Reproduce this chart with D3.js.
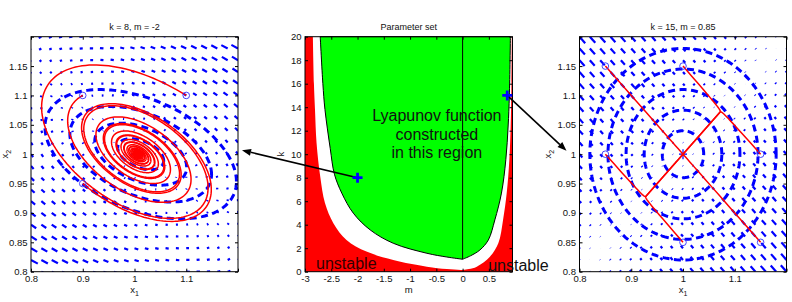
<!DOCTYPE html>
<html>
<head>
<meta charset="utf-8">
<script src="https://cdn.jsdelivr.net/npm/d3@7"></script>
<style>
  body { margin: 0; background: #fff; }
  svg { display: block; font-family: "Liberation Sans", Arial, Helvetica, sans-serif; }
</style>
</head>
<body>
<div id="chart"></div>
<script>
// ---- datos ----
const titles = ["k = 8, m = -2", "Parameter set", "k = 15, m = 0.85"];

// ejes de los planos de fase
const phaseXTicks = [0.8, 0.9, 1, 1.1, 1.2];
const phaseXLabels = ["0.8", "0.9", "1", "1.1", ""];
const phaseYTicks = [0.8, 0.85, 0.9, 0.95, 1, 1.05, 1.1, 1.15, 1.2];
const phaseYLabels = ["0.8", "0.85", "0.9", "0.95", "1", "1.05", "1.1", "1.15", ""];
const gridStep = 0.02;

// ejes del conjunto de parametros
const mTicks = [-3, -2.5, -2, -1.5, -1, -0.5, 0, 0.5];
const mTickLabels = ["-3", "-2.5", "-2", "-1.5", "-1", "-0.5", "0", "0.5"];
const kTicks = [0, 2, 4, 6, 8, 10, 12, 14, 16, 18, 20];

// puntos de parametros elegidos (cruces azules)
const paramM = [-2, 0.85];
const paramK = [8, 15];

// frontera roja (inestable), de arriba a abajo por la izquierda y de abajo a arriba por la derecha
const redLeftM = [-2.85, -2.83, -2.81, -2.78, -2.71, -2.62, -2.46, -2.21, -1.83, -1.32, -0.68, -0.3, 0];
const redLeftK = [20, 16, 13.8, 10.95, 8.1, 5.84, 4.13, 2.7, 1.71, 1.0, 0.43, 0.22, 0.15];
const redRightM = [0, 0.12, 0.27, 0.52, 0.68, 0.77, 0.84, 0.89, 0.915, 0.93, 0.937];
const redRightK = [0.15, 0.22, 0.43, 1.28, 2.42, 4.41, 6.69, 9.53, 12.4, 16, 20];

// region verde (funcion de Lyapunov construida)
const greenLeftM = [-2.71, -2.66, -2.62, -2.52, -2.44, -2.3, -2.08, -1.76, -1.32, -0.68, -0.3, 0];
const greenLeftK = [20, 16, 13.8, 10.5, 8.3, 6.69, 4.98, 3.56, 2.42, 1.57, 1.25, 1.06];
const greenRightM = [0, 0.15, 0.33, 0.49, 0.614, 0.74, 0.823, 0.867, 0.89, 0.91];
const greenRightK = [1.06, 1.35, 1.85, 2.7, 4.41, 6.69, 9.53, 12.4, 15, 20];

// condiciones iniciales de las trayectorias
const leftStartX1 = [0.9, 1.1, 0.9];
const leftStartX2 = [1.1, 1.1, 0.95];
const rightStartX1 = [0.85, 1, 1.15, 0.85, 1, 1.15];
const rightStartX2 = [1.15, 1.15, 1, 1, 0.85, 0.85];

// curvas de nivel (discontinuas azules)
const leftLevels = [1, 0.74, 0.48, 0.24];
const rightLevels = [0.04, 0.075, 0.11, 0.145, 0.18];

// ---- modelos de los dos planos de fase ----
// espiral estable (k = 8, m = -2)
const spiral = { cx: 1.006, cy: 1, wx: 0.165, wy: 0.12, delta: 120 * Math.PI / 180, s0: 0.07, s1: 0.03 };
// forma de las curvas de nivel de la izquierda
const ellipse = { cx: 1.012, cy: 1, wx: 0.185, wy: 0.11, delta: 115 * Math.PI / 180 };
// nodo rigido (k = 15, m = 0.85)
const stiff = { cx: 1, cy: 1, fast: 1, slow: 1 / 150 };

function spiralField(x1, x2) {
  const u = x1 - spiral.cx, v = x2 - spiral.cy;
  const cd = Math.cos(spiral.delta), sd = Math.sin(spiral.delta);
  const C = u / spiral.wx, S = (v / spiral.wy - C * cd) / sd;
  const sig = spiral.s0 + spiral.s1 * (C * C + S * S);
  const dC = -sig * C - S, dS = -sig * S + C;
  return [spiral.wx * dC, spiral.wy * (dC * cd + dS * sd)];
}

function stiffField(x1, x2) {
  const u = x1 - stiff.cx, v = x2 - stiff.cy;
  const p = (u - v) / 2, q = (u + v) / 2;
  const dp = -stiff.fast * p, dq = -stiff.slow * q;
  return [dp + dq, dq - dp];
}

// integracion RK4
function integrate(field, x0, y0, dt, steps) {
  const pts = [[x0, y0]];
  let x = x0, y = y0;
  for (let i = 0; i < steps; i++) {
    const a = field(x, y);
    const b = field(x + dt / 2 * a[0], y + dt / 2 * a[1]);
    const c = field(x + dt / 2 * b[0], y + dt / 2 * b[1]);
    const d = field(x + dt * c[0], y + dt * c[1]);
    x += dt / 6 * (a[0] + 2 * b[0] + 2 * c[0] + d[0]);
    y += dt / 6 * (a[1] + 2 * b[1] + 2 * c[1] + d[1]);
    pts.push([x, y]);
  }
  return pts;
}

// ---- lienzo ----
const W = 792, H = 302;
const topY = 36.7, panelH = 235;
const svg = d3.select("#chart").append("svg")
  .attr("width", W).attr("height", H);

const font = "9.5px";

function frame(g, w, h) {
  g.append("rect")
    .attr("width", w).attr("height", h)
    .attr("fill", "none").attr("stroke", "#000").attr("stroke-width", 1);
}

function styleAxis(a) {
  a.select(".domain").remove();
  a.selectAll("text").attr("font-size", font).attr("fill", "#111")
    .attr("font-family", "Liberation Sans, Arial, sans-serif");
  a.selectAll("line").attr("stroke", "#000");
}

// ---- panel de plano de fase ----
function phasePanel(x0, opts) {
  const w = 207, h = panelH;
  const g = svg.append("g").attr("transform", `translate(${x0},${topY})`);
  const x = d3.scaleLinear().domain([0.8, 1.2]).range([0, w]);
  const y = d3.scaleLinear().domain([0.8, 1.2]).range([h, 0]);

  const clipId = "clip" + opts.id;
  g.append("clipPath").attr("id", clipId)
    .append("rect").attr("width", w).attr("height", h);
  const plot = g.append("g").attr("clip-path", `url(#${clipId})`);

  // campo de vectores (quiver)
  const grid = d3.range(0.8, 1.2 + 1e-9, gridStep);
  const vecs = [];
  grid.forEach(gx => grid.forEach(gy => {
    const f = opts.field(gx, gy);
    vecs.push({ gx, gy, du: f[0], dv: f[1] });
  }));
  const maxLen = d3.max(vecs, d => Math.hypot(d.du, d.dv) / Math.hypot(gridStep, gridStep));
  const sc = opts.quiverScale / maxLen;
  plot.append("g").selectAll("line").data(vecs).join("line")
    .attr("x1", d => x(d.gx)).attr("y1", d => y(d.gy))
    .attr("x2", d => x(d.gx + d.du * sc)).attr("y2", d => y(d.gy + d.dv * sc))
    .attr("stroke", "#0000ff").attr("stroke-width", 2.2);

  const line = d3.line().x(d => x(d[0])).y(d => y(d[1]));

  // curvas de nivel
  plot.append("g").selectAll("path").data(opts.levels).join("path")
    .attr("d", s => line(opts.levelCurve(s)) + "Z")
    .attr("fill", "none").attr("stroke", "#0000ff")
    .attr("stroke-width", 3).attr("stroke-dasharray", "7,4.5");

  // equilibrio
  plot.append("path")
    .attr("d", `M${x(1) - 4},${y(1)}H${x(1) + 4}M${x(1)},${y(1) - 5}V${y(1) + 5}`)
    .attr("stroke", "#0000ff").attr("stroke-width", 1.2);

  // trayectorias
  const starts = opts.startX1.map((v, i) => [v, opts.startX2[i]]);
  plot.append("g").selectAll("path").data(starts).join("path")
    .attr("d", s => line(integrate(opts.field, s[0], s[1], opts.dt, opts.steps)))
    .attr("fill", "none").attr("stroke", "#ff0000").attr("stroke-width", 1.5);

  plot.append("g").selectAll("circle").data(starts).join("circle")
    .attr("cx", d => x(d[0])).attr("cy", d => y(d[1])).attr("r", 3.3)
    .attr("fill", "none").attr("stroke", "#3030ff").attr("stroke-width", 0.9);

  // ejes
  g.append("g").attr("transform", `translate(0,${h})`)
    .call(d3.axisBottom(x).tickValues(phaseXTicks).tickSize(-3).tickPadding(3.5)
      .tickFormat((d, i) => phaseXLabels[i])).call(styleAxis);
  g.append("g").call(d3.axisTop(x).tickValues(phaseXTicks).tickSize(-3).tickFormat("")).call(styleAxis);
  g.append("g")
    .call(d3.axisLeft(y).tickValues(phaseYTicks).tickSize(-3).tickPadding(3.5)
      .tickFormat((d, i) => phaseYLabels[i])).call(styleAxis);
  g.append("g").attr("transform", `translate(${w},0)`)
    .call(d3.axisRight(y).tickValues(phaseYTicks).tickSize(-3).tickFormat("")).call(styleAxis);
  frame(g, w, h);

  g.append("text").attr("x", w / 2).attr("y", -7).attr("text-anchor", "middle")
    .attr("font-size", "9px").attr("fill", "#111").text(opts.title);

  const xl = g.append("text").attr("x", w / 2).attr("y", h + 21.5).attr("text-anchor", "middle")
    .attr("font-size", "9.5px").attr("fill", "#111");
  xl.append("tspan").text("x");
  xl.append("tspan").attr("font-size", "7px").attr("dy", 3).text("1");

  const yl = g.append("text").attr("transform", `translate(${opts.yLabelOffset},${y(1)}) rotate(-90)`)
    .attr("text-anchor", "middle").attr("font-size", "9.5px").attr("fill", "#111");
  yl.append("tspan").text("x");
  yl.append("tspan").attr("font-size", "7px").attr("dy", 3).text("2");

  return { g, x, y, w, h };
}

const leftPanel = phasePanel(31, {
  id: "L", title: titles[0], field: spiralField, quiverScale: 0.55, yLabelOffset: -23.5,
  startX1: leftStartX1, startX2: leftStartX2, dt: 0.04, steps: 2500,
  levels: leftLevels,
  levelCurve: s => d3.range(0, 2 * Math.PI + 0.01, Math.PI / 90).map(t => [
    ellipse.cx + s * ellipse.wx * Math.cos(t),
    ellipse.cy + s * ellipse.wy * Math.cos(t - ellipse.delta)])
});

const rightPanel = phasePanel(579.5, {
  id: "R", title: titles[2], field: stiffField, quiverScale: 0.55, yLabelOffset: -29,
  startX1: rightStartX1, startX2: rightStartX2, dt: 0.25, steps: 4000,
  levels: rightLevels,
  levelCurve: r => d3.range(0, 2 * Math.PI + 0.01, Math.PI / 90).map(t => [
    1 + r * Math.cos(t), 1 + r * Math.sin(t)])
});

// ---- panel central: conjunto de parametros ----
const midX = 305, midW = 207.5;
const mid = svg.append("g").attr("transform", `translate(${midX},${topY})`);
const xm = d3.scaleLinear().domain([-3, 0.95]).range([0, midW]);
const ym = d3.scaleLinear().domain([0, 20]).range([panelH, 0]);
const curve = d3.line().x(d => xm(d[0])).y(d => ym(d[1])).curve(d3.curveCatmullRom);
const zip = (a, b) => a.map((v, i) => [v, b[i]]);

mid.append("rect").attr("width", midW).attr("height", panelH).attr("fill", "#fff");

const redBoundary = zip(redLeftM, redLeftK).concat(zip(redRightM, redRightK).slice(1));
mid.append("path")
  .attr("d", `M${xm(-3)},${ym(0)}L${xm(-3)},${ym(20)}L` + curve(redBoundary).slice(1) +
    `L${xm(0.95)},${ym(20)}L${xm(0.95)},${ym(0)}Z`)
  .attr("fill", "#ff0000");

mid.append("path")
  .attr("d", curve(zip(greenLeftM, greenLeftK)) + "L" + curve(zip(greenRightM, greenRightK)).slice(1) + "Z")
  .attr("fill", "#00ff00").attr("stroke", "#000").attr("stroke-width", 1);

mid.append("line")
  .attr("x1", xm(0)).attr("x2", xm(0))
  .attr("y1", ym(greenLeftK[greenLeftK.length - 1])).attr("y2", ym(20))
  .attr("stroke", "#000").attr("stroke-width", 1);

// textos
const lyap = mid.append("text").attr("x", xm(-0.49)).attr("y", ym(12.8))
  .attr("text-anchor", "middle").attr("font-size", "16px").attr("fill", "#111");
["Lyapunov function", "constructed", "in this region"].forEach((t, i) => {
  lyap.append("tspan").attr("x", xm(-0.49)).attr("dy", i === 0 ? 0 : 18.5).text(t);
});
mid.append("text").attr("x", xm(-2.79)).attr("y", ym(0.2))
  .attr("font-size", "16px").attr("fill", "#300").text("unstable");

// ejes
mid.append("g").attr("transform", `translate(0,${panelH})`)
  .call(d3.axisBottom(xm).tickValues(mTicks).tickSize(-3).tickPadding(3.5)
    .tickFormat((d, i) => mTickLabels[i])).call(styleAxis);
mid.append("g").call(d3.axisTop(xm).tickValues(mTicks).tickSize(-3).tickFormat("")).call(styleAxis);
mid.append("g").call(d3.axisLeft(ym).tickValues(kTicks).tickSize(-3).tickPadding(3.5)).call(styleAxis);
mid.append("g").attr("transform", `translate(${midW},0)`)
  .call(d3.axisRight(ym).tickValues(kTicks).tickSize(-3).tickFormat("")).call(styleAxis);
frame(mid, midW, panelH);

mid.append("text").attr("x", midW / 2).attr("y", -7).attr("text-anchor", "middle")
  .attr("font-size", "9px").attr("fill", "#111").text(titles[1]);
mid.append("text").attr("x", midW / 2).attr("y", panelH + 21.5).attr("text-anchor", "middle")
  .attr("font-size", "9.5px").attr("fill", "#111").text("m");
mid.append("text").attr("transform", `translate(-21.5,${ym(10)}) rotate(-90)`)
  .attr("text-anchor", "middle").attr("font-size", "9.5px").attr("fill", "#111").text("k");

// texto "unstable" de la derecha (se sale del eje)
mid.append("text").attr("x", xm(0.487)).attr("y", ym(0) - 0.5)
  .attr("font-size", "16px").attr("fill", "#111").text("unstable");

// ---- flechas desde los puntos de parametros a los paneles ----
const arrows = [
  { from: [midX + xm(paramM[0]), topY + ym(paramK[0])],
    to: [31 + leftPanel.w + 4, topY + leftPanel.y(1) - 4] },
  { from: [midX + xm(paramM[1]), topY + ym(paramK[1])],
    to: [579.5 - 13, topY + rightPanel.y(1) - 3.5] }
];
arrows.forEach(a => {
  const dx = a.to[0] - a.from[0], dy = a.to[1] - a.from[1];
  const L = Math.hypot(dx, dy), ux = dx / L, uy = dy / L;
  const hl = 9, hw = 3.5;
  const bx = a.to[0] - ux * hl, by = a.to[1] - uy * hl;
  svg.append("line")
    .attr("x1", a.from[0]).attr("y1", a.from[1]).attr("x2", bx).attr("y2", by)
    .attr("stroke", "#000").attr("stroke-width", 1.6);
  svg.append("path")
    .attr("d", `M${a.to[0]},${a.to[1]}L${bx - uy * hw},${by + ux * hw}L${bx + uy * hw},${by - ux * hw}Z`)
    .attr("fill", "#000");
});

// cruces azules
svg.append("g").selectAll("path").data(paramM).join("path")
  .attr("d", (d, i) => {
    const cx = midX + xm(d), cy = topY + ym(paramK[i]);
    return `M${cx - 5},${cy}H${cx + 5}M${cx},${cy - 5}V${cy + 5}`;
  })
  .attr("stroke", "#0000ff").attr("stroke-width", 2.8);
</script>
</body>
</html>
